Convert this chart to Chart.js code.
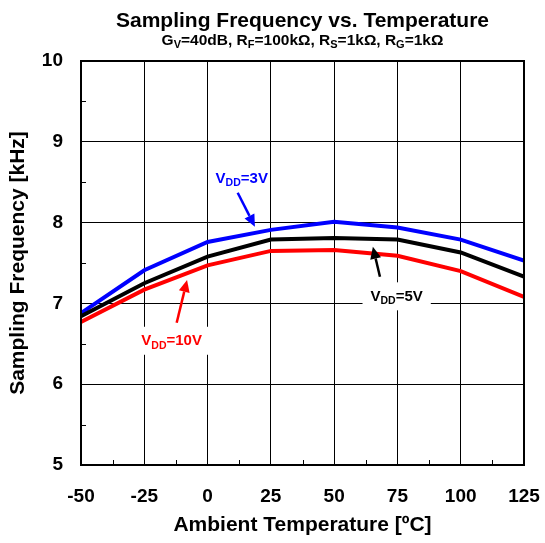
<!DOCTYPE html>
<html><head><meta charset="utf-8">
<script src="https://cdn.jsdelivr.net/npm/chart.js@4.4.1/dist/chart.umd.min.js"></script>
<style>html,body{margin:0;padding:0;background:#fff;overflow:hidden}</style>
</head><body>
<canvas id="c" width="545" height="543"></canvas>
<script>
// ---- data ----
const temperatures = [-50, -25, 0, 25, 50, 75, 100, 125];
const vdd3V  = [6.88, 7.41, 7.76, 7.91, 8.01, 7.94, 7.79, 7.53];
const vdd5V  = [6.84, 7.25, 7.58, 7.79, 7.81, 7.79, 7.63, 7.33];
const vdd10V = [6.77, 7.17, 7.47, 7.65, 7.66, 7.59, 7.40, 7.08];
const xTickValues = [-50, -25, 0, 25, 50, 75, 100, 125];
const yTickValues = [5, 6, 7, 8, 9, 10];

const FONT = '"Liberation Sans", Arial, Helvetica, sans-serif';

// annotation labels (anchor in data coordinates)
const notes = [
  {parts:[['V',0],['DD',1],['=3V',0]], color:'#0000FF', tx:13.5, ty:8.56, box:false,
   from:[11.9, 8.37], to:[18.7, 7.95]},
  {parts:[['V',0],['DD',1],['=5V',0]], color:'#000000', tx:74.7, ty:7.10, box:true,
   from:[68.1, 7.33], to:[65.3, 7.70]},
  {parts:[['V',0],['DD',1],['=10V',0]], color:'#FF0000', tx:-14.2, ty:6.55, box:true,
   from:[-12.2, 6.76], to:[-8.1, 7.29]}
];

function richWidth(ctx, parts, size, subSize) {
  let w = 0;
  for (const [t, s] of parts) { ctx.font = 'bold ' + (s ? subSize : size) + 'px ' + FONT; w += ctx.measureText(t).width; }
  return w;
}
function drawRich(ctx, parts, cx, baseline, size, subSize, color) {
  const w = richWidth(ctx, parts, size, subSize);
  let x = cx - w / 2;
  ctx.fillStyle = color; ctx.textAlign = 'left'; ctx.textBaseline = 'alphabetic';
  for (const [t, s] of parts) {
    ctx.font = 'bold ' + (s ? subSize : size) + 'px ' + FONT;
    ctx.fillText(t, x, baseline + (s ? size * 0.22 : 0));
    x += ctx.measureText(t).width;
  }
  return w;
}
function arrow(ctx, x1, y1, x2, y2, color) {
  const ang = Math.atan2(y2 - y1, x2 - x1);
  const hl = 12, hw = 5.5;
  const bx = x2 - hl * Math.cos(ang), by = y2 - hl * Math.sin(ang);
  ctx.strokeStyle = color; ctx.lineWidth = 2.5; ctx.lineCap = 'butt';
  ctx.beginPath(); ctx.moveTo(x1, y1); ctx.lineTo(bx, by); ctx.stroke();
  ctx.fillStyle = color; ctx.beginPath();
  ctx.moveTo(x2, y2);
  ctx.lineTo(bx + hw * Math.sin(ang), by - hw * Math.cos(ang));
  ctx.lineTo(bx - hw * Math.sin(ang), by + hw * Math.cos(ang));
  ctx.closePath(); ctx.fill();
}

const decor = {
  id: 'decor',
  beforeDatasetsDraw(chart) {
    const {ctx, chartArea: a, scales: {x, y}} = chart;
    ctx.save();
    // minor inner ticks
    ctx.strokeStyle = '#000'; ctx.lineWidth = 1;
    for (let i = 0; i < xTickValues.length - 1; i++) {
      const px = Math.round(x.getPixelForValue((xTickValues[i] + xTickValues[i + 1]) / 2)) + 0.5;
      ctx.beginPath(); ctx.moveTo(px, a.bottom); ctx.lineTo(px, a.bottom - 5); ctx.stroke();
    }
    for (let i = 0; i < yTickValues.length - 1; i++) {
      const py = Math.round(y.getPixelForValue((yTickValues[i] + yTickValues[i + 1]) / 2)) + 0.5;
      ctx.beginPath(); ctx.moveTo(a.left, py); ctx.lineTo(a.left + 5, py); ctx.stroke();
    }
    // white boxes behind labels
    for (const n of notes) {
      if (!n.box) continue;
      const w = richWidth(ctx, n.parts, 15, 10.5);
      const cx = x.getPixelForValue(n.tx), cy = y.getPixelForValue(n.ty);
      ctx.fillStyle = '#fff';
      ctx.fillRect(cx - w / 2 - 8, cy - 13, w + 16, 28);
    }
    ctx.restore();
  },
  afterDatasetsDraw(chart) {
    const {ctx, chartArea: a, scales: {x, y}} = chart;
    ctx.save();
    ctx.strokeStyle = '#000'; ctx.lineWidth = 2;
    ctx.strokeRect(a.left, a.top, a.right - a.left, a.bottom - a.top);
    for (const n of notes) {
      const cx = x.getPixelForValue(n.tx), cy = y.getPixelForValue(n.ty);
      drawRich(ctx, n.parts, cx, cy + 5.5, 15, 10.5, n.color);
      arrow(ctx, x.getPixelForValue(n.from[0]), y.getPixelForValue(n.from[1]),
                 x.getPixelForValue(n.to[0]), y.getPixelForValue(n.to[1]), n.color);
    }
    // titles
    const mid = (a.left + a.right) / 2;
    ctx.fillStyle = '#000'; ctx.textAlign = 'center'; ctx.textBaseline = 'alphabetic';
    ctx.font = 'bold 21px ' + FONT;
    ctx.fillText('Sampling Frequency vs. Temperature', mid, 27);
    drawRich(ctx, [['G',0],['V',1],['=40dB, R',0],['F',1],['=100kΩ, R',0],['S',1],['=1kΩ, R',0],['G',1],['=1kΩ',0]],
             mid, 45, 15.5, 11, '#000');
    ctx.restore();
  }
};

const toXY = arr => temperatures.map((t, i) => ({x: t, y: arr[i]}));

new Chart(document.getElementById('c'), {
  type: 'line',
  data: {
    datasets: [
      {label: 'VDD=10V', data: toXY(vdd10V), borderColor: '#FF0000', borderWidth: 4, pointRadius: 0, tension: 0, fill: false},
      {label: 'VDD=5V',  data: toXY(vdd5V),  borderColor: '#000000', borderWidth: 4, pointRadius: 0, tension: 0, fill: false},
      {label: 'VDD=3V',  data: toXY(vdd3V),  borderColor: '#0000FF', borderWidth: 4, pointRadius: 0, tension: 0, fill: false}
    ]
  },
  options: {
    responsive: false,
    animation: false,
    devicePixelRatio: 1,
    layout: {padding: {top: 61, right: 21, left: 0, bottom: 0}},
    plugins: {legend: {display: false}, tooltip: {enabled: false}, title: {display: false}},
    scales: {
      x: {
        type: 'linear', min: -50, max: 125,
        afterBuildTicks: s => { s.ticks = xTickValues.map(v => ({value: v})); },
        afterFit: s => { s.height = 78; s.paddingLeft = 0; s.paddingRight = 0; },
        grid: {color: '#000', lineWidth: 1, drawTicks: false},
        border: {display: true, color: '#000', width: 2},
        ticks: {color: '#000', padding: 20, maxRotation: 0, font: {family: FONT, size: 19, weight: 'bold'}},
        title: {display: true, text: 'Ambient Temperature [ºC]', color: '#000', padding: {top: 0, bottom: 5},
                font: {family: FONT, size: 21, weight: 'bold'}}
      },
      y: {
        type: 'linear', min: 5, max: 10,
        afterBuildTicks: s => { s.ticks = yTickValues.map(v => ({value: v})); },
        afterFit: s => { s.width = 81; s.paddingTop = 0; s.paddingBottom = 0; },
        grid: {color: '#000', lineWidth: 1, drawTicks: false},
        border: {display: true, color: '#000', width: 2},
        ticks: {color: '#000', padding: 18, font: {family: FONT, size: 19, weight: 'bold'}},
        title: {display: true, text: 'Sampling Frequency [kHz]', color: '#000', padding: {top: 6, bottom: 0},
                font: {family: FONT, size: 21, weight: 'bold'}}
      }
    }
  },
  plugins: [decor]
});
</script>
</body></html>
